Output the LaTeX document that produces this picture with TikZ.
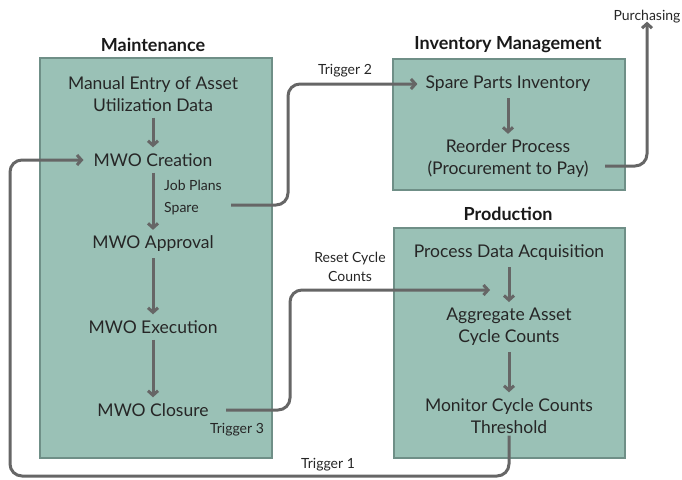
\documentclass[tikz,border=0pt]{standalone}
\usepackage{fontspec}
\setmainfont{Lato}
\usetikzlibrary{arrows.meta, positioning}
\definecolor{lanefill}{HTML}{9AC1B6}
\definecolor{laneedge}{HTML}{6F8F87}
\definecolor{flowgray}{HTML}{666666}

\begin{document}
\begin{tikzpicture}[x=1pt, y=-1pt,
		lane/.style={draw=laneedge, fill=lanefill, line width=1.6pt, inner sep=0pt},
		task/.style={align=center, text=black!85, inner sep=2pt, font=\fontsize{17.5}{22}\selectfont},
		note/.style={align=center, text=black!85, inner sep=1pt, font=\fontsize{14}{22}\selectfont},
		lanetitle/.style={text=black!90, font=\fontsize{18}{20}\selectfont\bfseries},
		flow/.style={draw=flowgray, line width=3pt, rounded corners=12pt, -{Straight Barb[length=4.5pt, width=10pt]}},
		step down/.style={flow, shorten <=4pt, shorten >=4pt}]
		\useasboundingbox (0,0) rectangle (682,479);
		
		% lanes
		\node[lane, minimum width=232pt, minimum height=400pt] (maint) at (156,258) {};
		\node[lane, minimum width=232pt, minimum height=131pt] (inv) at (509,124.5) {};
		\node[lane, minimum width=231pt, minimum height=230pt] (prod) at (509.5,343) {};
		
		\node[lanetitle] (maintT) at (153,45) {Maintenance};
		\node[lanetitle] (invT) at (508,45) {Inventory Management};
		\node[lanetitle] (prodT) at (508,214) {Production};
		
		% maintenance tasks
		\node[task] (entry) at (153,94) {Manual Entry of Asset\\Utilization Data};
		\node[task] (create) at (153,160) {MWO Creation};
		\node[task] (approve) at (153,244) {MWO Approval};
		\node[task] (execute) at (153,327) {MWO Execution};
		\node[task] (closure) at (153,410) {MWO Closure};
		\node[note, align=left, anchor=west] (jobplans) at (163,198) {Job Plans\\Spare};
		
		% inventory tasks
		\node[task] (spare) at (508,84) {Spare Parts Inventory};
		\node[task] (reorder) at (508,159) {Reorder Process\\(Procurement to Pay)};
		
		% production tasks
		\node[task] (acquire) at (509,253) {Process Data Acquisition};
		\node[task] (aggregate) at (509,327) {Aggregate Asset\\Cycle Counts};
		\node[task] (monitor) at (509,416) {Monitor Cycle Counts\\Threshold};
		
		\node[note] (purch) at (647,17) {Purchasing};
		\node[note] (trig1) at (328,465) {Trigger 1};
		\node[note] (trig2) at (345,71) {Trigger 2};
		\node[note] (trig3) at (237,430) {Trigger 3};
		\node[note, font=\fontsize{14}{19}\selectfont] (reset) at (350,267) {Reset Cycle\\Counts};
		
		\draw[step down] (entry) -- (create);
		\draw[step down] (create) -- (approve);
		\draw[step down] (approve) -- (execute);
		\draw[step down] (execute) -- (closure);
		\draw[step down] (spare) -- (reorder);
		\draw[step down] (acquire) -- (aggregate);
		\draw[step down] (aggregate) -- (monitor);
		
		\coordinate (t2start) at (231,205);
		\coordinate (t3start) at (226,410);
		\coordinate (resetend) at (490,290);
		\coordinate (pstart) at (605,166);
		
		\draw[flow] (t2start) -- (288,205) |- ([xshift=-6pt]spare.west);
		\draw[flow] (pstart) -| ([yshift=3pt]purch.south);
		\draw[flow] (t3start) -- (290,410) |- (resetend);
		\draw[flow] (monitor.south) |- (10,476) |- ([xshift=-8pt]create.west);
	\end{tikzpicture}
\end{document}
